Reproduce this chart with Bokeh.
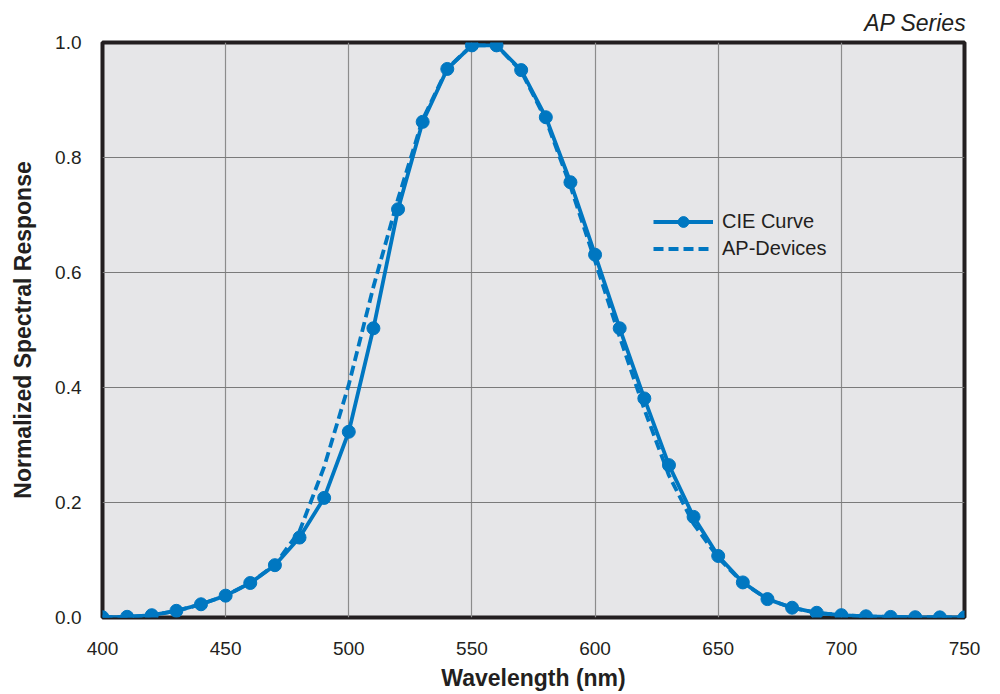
from bokeh.plotting import figure
from bokeh.models import Legend, LegendItem, FixedTicker, Range1d, PrintfTickFormatter
from bokeh.embed import file_html
from bokeh.resources import INLINE

wavelength = [400, 410, 420, 430, 440, 450, 460, 470, 480, 490, 500, 510, 520, 530,
              540, 550, 560, 570, 580, 590, 600, 610, 620, 630, 640, 650, 660, 670,
              680, 690, 700, 710, 720, 730, 740, 750]
cie_curve = [0.0004, 0.0012, 0.004, 0.0116, 0.023, 0.038, 0.060, 0.091, 0.139, 0.208,
             0.323, 0.503, 0.710, 0.862, 0.954, 0.995, 0.995, 0.952, 0.870, 0.757,
             0.631, 0.503, 0.381, 0.265, 0.175, 0.107, 0.061, 0.032, 0.017, 0.0082,
             0.0041, 0.0021, 0.00105, 0.00052, 0.00025, 0.00012]
ap_devices = [0.0004, 0.0012, 0.004, 0.0116, 0.023, 0.038, 0.060, 0.092, 0.150, 0.262,
              0.405, 0.575, 0.728, 0.866, 0.955, 0.995, 0.995, 0.950, 0.866, 0.750,
              0.620, 0.488, 0.362, 0.247, 0.163, 0.104, 0.060, 0.032, 0.017, 0.0082,
              0.0041, 0.0021, 0.00105, 0.00052, 0.00025, 0.00012]
x_ticks = [400, 450, 500, 550, 600, 650, 700, 750]
y_ticks = [0.0, 0.2, 0.4, 0.6, 0.8, 1.0]
x_title = "Wavelength (nm)"
y_title = "Normalized Spectral Response"

BLUE = "#0077c1"
TXT = "#231f20"
FONT = "Liberation Sans"

p = figure(width=984, height=694, output_backend="svg", toolbar_location=None,
           x_range=Range1d(400, 750), y_range=Range1d(0.0, 1.0),
           min_border_left=102, min_border_right=20, min_border_top=42, min_border_bottom=77)
p.title.text = "AP Series"
p.title.align = "right"
p.title.text_font = FONT
p.title.text_font_style = "italic"
p.title.text_font_size = "23px"
p.title.text_color = TXT
p.title.standoff = 14
p.title.offset = -2

p.background_fill_color = "#e6e6e8"
p.border_fill_color = "white"
p.outline_line_color = TXT
p.outline_line_width = 4

p.xaxis.ticker = FixedTicker(ticks=x_ticks)
p.yaxis.ticker = FixedTicker(ticks=y_ticks)
p.yaxis.formatter = PrintfTickFormatter(format="%.1f")
for ax in (p.xaxis[0], p.yaxis[0]):
    ax.axis_line_color = None
    ax.major_tick_line_color = None
    ax.minor_tick_line_color = None
    ax.major_label_text_font = FONT
    ax.major_label_text_font_size = "19px"
    ax.major_label_text_color = TXT
    ax.axis_label_text_font = FONT
    ax.axis_label_text_font_size = "23px"
    ax.axis_label_text_font_style = "bold"
    ax.axis_label_text_color = TXT
p.xaxis.axis_label = x_title
p.yaxis.axis_label = y_title
p.xaxis.major_label_standoff = 18
p.xaxis.axis_label_standoff = 7
p.yaxis.major_label_standoff = 15
p.yaxis.axis_label_standoff = 16

p.xgrid.grid_line_color = "#8c8c8c"
p.ygrid.grid_line_color = "#7a7a7a"
p.xgrid.grid_line_width = 1.2
p.ygrid.grid_line_width = 1.2

l_ap = p.line(wavelength, ap_devices, line_color=BLUE, line_width=3.8, line_dash="10 5")
l_cie = p.line(wavelength, cie_curve, line_color=BLUE, line_width=3.8)
s_cie = p.scatter(wavelength, cie_curve, size=13, fill_color=BLUE, line_color=BLUE)

legend = Legend(items=[LegendItem(label="CIE Curve", renderers=[l_cie, s_cie]),
                       LegendItem(label="AP-Devices", renderers=[l_ap])],
                location=(546, 350), padding=5, margin=0, spacing=0,
                glyph_width=60, glyph_height=27, label_height=22, label_standoff=9,
                label_text_font=FONT, label_text_font_size="20px", label_text_color=TXT,
                background_fill_alpha=0, border_line_alpha=0)
p.add_layout(legend)

open("out.html", "w").write(file_html(p, INLINE))
